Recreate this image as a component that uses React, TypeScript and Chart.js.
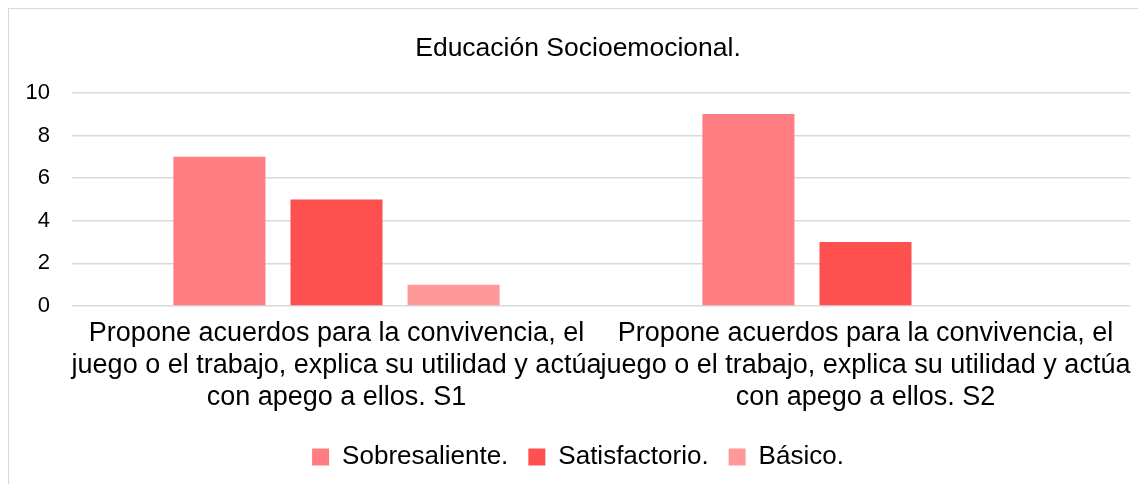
import React, { useEffect, useRef } from "react";
import { Chart, registerables } from "chart.js";

Chart.register(...registerables);

const categories: string[][] = [
  ["Propone acuerdos para la convivencia, el", "juego o el trabajo, explica su utilidad y actúa", "con apego a ellos. S1"],
  ["Propone acuerdos para la convivencia, el", "juego o el trabajo, explica su utilidad y actúa", "con apego a ellos. S2"],
];
const sobresaliente = [7, 9];
const satisfactorio = [5, 3];
const basico = [1, 0];
const seriesNames = ["Sobresaliente.", "Satisfactorio.", "Básico."];
const seriesColors = ["#FF7C80", "#FF5050", "#FF9999"];
const titleText = "Educación Socioemocional.";

export default function App() {
  const ref = useRef<HTMLCanvasElement>(null);
  useEffect(() => {
    if (!ref.current) return;
    const font = "'Liberation Sans', Arial, sans-serif";
    const chart = new Chart(ref.current, {
      type: "bar",
      data: {
        labels: categories,
        datasets: [sobresaliente, satisfactorio, basico].map((d, i) => ({
          label: seriesNames[i],
          data: d,
          backgroundColor: seriesColors[i],
          borderWidth: 0,
          categoryPercentage: 0.664,
          barPercentage: 0.786,
        })),
      },
      options: {
        animation: false,
        responsive: false,
        maintainAspectRatio: false,
        layout: { padding: { left: 17, right: 16, top: 0, bottom: 4 } },
        plugins: {
          title: {
            display: true,
            text: titleText,
            color: "#000",
            font: { family: font, size: 26.5, weight: "normal" },
            padding: { top: 24, bottom: 28 },
          },
          legend: {
            position: "bottom",
            labels: {
              color: "#000",
              font: { family: font, size: 26 },
              boxWidth: 17,
              boxHeight: 17,
              padding: 20,
            },
          },
          tooltip: { enabled: false },
        },
        scales: {
          x: {
            grid: { display: false },
            border: { display: false },
            ticks: {
              color: "#000",
              font: { family: font, size: 27, lineHeight: 1.185 },
              maxRotation: 0,
              autoSkip: false,
              padding: 4,
            },
            afterFit: (scale: any) => {
              scale.paddingLeft = 0;
              scale.paddingRight = 0;
              scale.height += 6;
            },
          },
          y: {
            min: 0,
            max: 10,
            ticks: {
              stepSize: 2,
              color: "#000",
              font: { family: font, size: 22 },
              padding: 22,
            },
            afterFit: (scale: any) => {
              scale.width = 46;
            },
            grid: { color: "#d9d9d9", lineWidth: 1.5, drawTicks: false },
            border: { display: false },
          },
        },
      },
    });
    return () => chart.destroy();
  }, []);
  return (
    <div
      style={{
        width: 1138,
        height: 476,
        borderLeft: "1px solid #d9d9d9",
        borderTop: "1px solid #d9d9d9",
        boxSizing: "border-box",
        overflow: "hidden",
      }}
    >
      <canvas ref={ref} width={1137} height={475} style={{ display: "block" }} />
    </div>
  );
}
